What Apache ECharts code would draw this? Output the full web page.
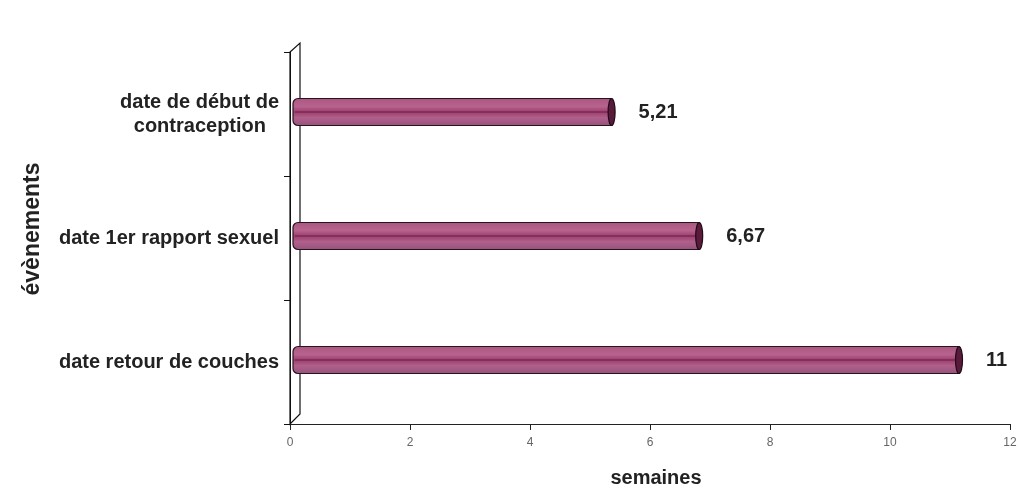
<html>
<head>
    <meta charset="utf-8">
    <script src="https://cdn.jsdelivr.net/npm/echarts@6.0.0/dist/echarts.min.js"></script>
</head>
<body style="margin:0">
<div id="main" style="width:1020px;height:499px;"></div>
<script>
    // données
    var categories = ['date de début de contraception', 'date 1er rapport sexuel', 'date retour de couches'];
    var values = [5.21, 6.67, 11];
    var xTicks = [0, 2, 4, 6, 8, 10, 12];

    var myChart = echarts.init(document.getElementById('main'));

    var font = '"Liberation Sans", Arial, sans-serif';

    function renderBar(params, api) {
        var i = api.value(0);
        var v = api.value(1);
        var p0 = api.coord([0, i]);
        var p1 = api.coord([v, i]);
        var h = 27;
        var x0 = p0[0] + 3;
        var x1 = p1[0] + 9;
        var yc = p0[1] - 2;
        return {
            type: 'group',
            children: [
                {
                    type: 'rect',
                    shape: {x: x0, y: yc - h / 2, width: x1 - x0, height: h, r: [5, 0, 0, 5]},
                    style: {
                        fill: new echarts.graphic.LinearGradient(0, 0, 0, 1, [
                            {offset: 0, color: '#a9577f'},
                            {offset: 0.3, color: '#b8638f'},
                            {offset: 0.5, color: '#9c3f6e'},
                            {offset: 0.7, color: '#b0608a'},
                            {offset: 1, color: '#94527a'}
                        ]),
                        stroke: '#2a1320',
                        lineWidth: 1.2
                    }
                },
                {
                    type: 'line',
                    shape: {x1: x0 + 2, y1: yc, x2: x1, y2: yc},
                    style: {stroke: '#7e2a55', lineWidth: 1.5}
                },
                {
                    type: 'ellipse',
                    shape: {cx: x1, cy: yc, rx: 3.5, ry: h / 2},
                    style: {fill: '#5a1a3c', stroke: '#1e0c16', lineWidth: 1.2}
                },
                {
                    type: 'text',
                    x: x1 + 27,
                    y: yc,
                    style: {
                        text: String(v).replace('.', ','),
                        font: 'bold 20px ' + font,
                        fill: '#222',
                        verticalAlign: 'middle'
                    }
                }
            ]
        };
    }

    function renderWall(params, api) {
        var n = categories.length;
        var band = api.size([0, 1])[1];
        var top = api.coord([0, 0])[1] - band / 2;
        var bottom = api.coord([0, n - 1])[1] + band / 2;
        var x = api.coord([0, 0])[0];
        return {
            type: 'polygon',
            shape: {points: [[x, bottom], [x + 10, bottom - 10], [x + 10, top - 9], [x, top]]},
            style: {fill: 'none', stroke: '#111', lineWidth: 1.2},
            z2: -1
        };
    }

    var option = {
        backgroundColor: '#fff',
        animation: false,
        grid: {left: 290, right: 10, top: 52, bottom: 75, containLabel: false},
        xAxis: {
            type: 'value',
            min: 0,
            max: 12,
            interval: 2,
            name: 'semaines',
            nameLocation: 'middle',
            nameGap: 44,
            nameTextStyle: {fontFamily: font, fontWeight: 'bold', fontSize: 20, color: '#222', padding: [0, 0, 0, 12]},
            axisLine: {show: true, lineStyle: {color: '#222', width: 1}},
            axisTick: {show: true, length: 6, lineStyle: {color: '#222'}},
            axisLabel: {
                fontFamily: font, fontSize: 12, color: '#666', margin: 13,
                formatter: function (v) { return xTicks.indexOf(v) >= 0 ? String(v) : ''; }
            },
            splitLine: {show: false}
        },
        yAxis: {
            type: 'category',
            data: categories,
            inverse: true,
            name: 'évènements',
            nameLocation: 'middle',
            nameRotate: 90,
            nameGap: 246,
            nameTextStyle: {fontFamily: font, fontWeight: 'bold', fontSize: 23, color: '#222', padding: [0, 0, 0, 18]},
            axisLine: {show: true, lineStyle: {color: '#111'}},
            axisTick: {show: true, length: 6, lineStyle: {color: '#111'}},
            axisLabel: {
                margin: 11,
                formatter: function (v) {
                    if (v === 'date de début de contraception') {
                        return '{a|date de début de}\n{b|contraception}';
                    }
                    return '{a|' + v + '}';
                },
                rich: {
                    a: {fontFamily: font, fontWeight: 'bold', fontSize: 20, color: '#222', lineHeight: 24},
                    b: {fontFamily: font, fontWeight: 'bold', fontSize: 20, color: '#222', lineHeight: 24, padding: [0, 13, 0, 0]}
                }
            }
        },
        series: [
            {
                type: 'custom',
                renderItem: renderWall,
                data: [[0, 0]],
                encode: {x: 1, y: 0},
                silent: true,
                z: 1
            },
            {
                type: 'custom',
                renderItem: renderBar,
                data: categories.map(function (c, i) { return [i, values[i]]; }),
                encode: {x: 1, y: 0},
                z: 2
            }
        ]
    };

    myChart.setOption(option);
</script>
</body>
</html>
